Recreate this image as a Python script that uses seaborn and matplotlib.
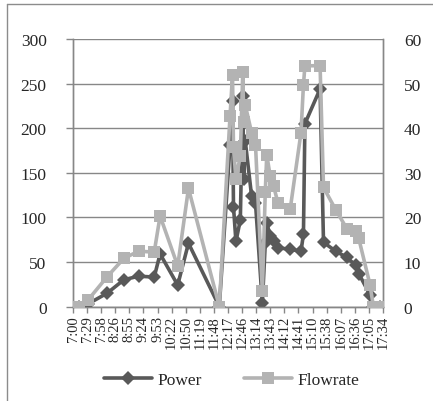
import matplotlib
matplotlib.use("Agg")
import matplotlib.pyplot as plt
import seaborn as sns
import numpy as np
from matplotlib.lines import Line2D

# ---- data ----
times = ["7:12", "7:31", "8:10", "8:44", "9:14", "9:46", "9:58", "10:34", "10:56",
         "11:59", "12:21", "12:26", "12:28", "12:33", "12:42", "12:47", "12:49", "12:52",
         "13:05", "13:13", "13:27", "13:33", "13:36", "13:43", "13:50", "13:59", "14:24",
         "14:46", "14:51", "14:54", "15:25", "15:32", "15:57", "16:20", "16:38", "16:44",
         "17:07", "17:14", "17:28"]
power = [0, 3, 15, 30, 34, 33, 59, 24, 71,
         0, 181, 231, 112, 73, 97, 236, 143, 186,
         124, 116, 4, 71, 94, 79, 73, 66, 64,
         62, 81, 205, 244, 72, 62, 55, 46, 37,
         13, 0, 0]
flowrate = [0, 1.5, 6.7, 10.8, 12.4, 12.2, 20.3, 9.1, 26.5,
            0, 42.8, 51.9, 35.7, 28.6, 33.8, 52.7, 41.3, 45.2,
            39, 36.3, 3.4, 25.7, 34, 29.3, 27, 23.2, 21.9,
            39, 49.7, 54, 54, 26.7, 21.7, 17.4, 17, 15.3,
            4.9, 0, 0]
tick_labels = ["7:00", "7:29", "7:58", "8:26", "8:55", "9:24", "9:53", "10:22", "10:50",
               "11:19", "11:48", "12:17", "12:46", "13:14", "13:43", "14:12", "14:41",
               "15:10", "15:38", "16:07", "16:36", "17:05", "17:34"]

def to_min(s):
    h, m = s.split(":")
    return int(h) * 60 + int(m) - 7 * 60

x = np.array([to_min(t) for t in times], dtype=float)
tick_pos = np.arange(len(tick_labels)) * 28.8

sns.set_style("white")
plt.rcParams['font.family'] = ['Liberation Serif', 'DejaVu Serif']

W, H = 433, 402
fig = plt.figure(figsize=(W / 100, H / 100), dpi=100)
ax = fig.add_axes([73 / W, 1 - 307.5 / H, 310 / W, 267.5 / H])
ax2 = ax.twinx()

dark = "#595959"
light = "#b3b3b3"
gridc = "#878787"

sns.lineplot(x=x, y=power, ax=ax, color=dark, marker="D", markersize=7.5,
             markeredgewidth=0, linewidth=2.6, estimator=None, sort=False, zorder=3)
sns.lineplot(x=x, y=flowrate, ax=ax2, color=light, marker="s", markersize=8.5,
             markeredgewidth=0, linewidth=2.6, estimator=None, sort=False, zorder=3)

ax.set_xlim(0, tick_pos[-1])
ax.set_ylim(0, 300)
ax2.set_ylim(0, 60)
ax.set_yticks(np.arange(0, 301, 50))
ax2.set_yticks(np.arange(0, 61, 10))
ax.set_xticks(tick_pos)
ax.set_xticklabels(tick_labels, rotation=90, fontsize=10.5)
ax.tick_params(axis='x', length=4, width=1, color=gridc, pad=2, direction='out', bottom=True)
ax.tick_params(axis='y', length=5, width=1, color=gridc, labelsize=12.5, pad=14, left=True)
ax2.tick_params(axis='y', length=0, labelsize=12.5, pad=15)

ax.grid(axis='y', color=gridc, linewidth=1)
ax.set_axisbelow(True)
for a in (ax, ax2):
    a.spines["top"].set_visible(False)
    for side in ("left", "bottom", "right"):
        a.spines[side].set_color(gridc)
        a.spines[side].set_linewidth(1)
ax.set_xlabel("")
ax.set_ylabel("")
ax2.set_ylabel("")
ax2.grid(False)

handles = [Line2D([], [], color=dark, marker="D", markersize=7.5, markeredgewidth=0, linewidth=2.6),
           Line2D([], [], color=light, marker="s", markersize=8.5, markeredgewidth=0, linewidth=2.6)]
fig.legend(handles, ["Power", "Flowrate"], loc="center", bbox_to_anchor=(0.535, 0.053),
           ncol=2, frameon=False, fontsize=12.5, handlelength=2.8, handletextpad=0.3,
           columnspacing=2.4)

# outer chart border (left and top visible)
fig.add_artist(Line2D([7 / W, 7 / W], [0, 1 - 5 / H], transform=fig.transFigure,
                      color="#8c8c8c", linewidth=1))
fig.add_artist(Line2D([7 / W, 1], [1 - 5 / H, 1 - 5 / H], transform=fig.transFigure,
                      color="#8c8c8c", linewidth=1))

fig.savefig("out.png", dpi=100)
